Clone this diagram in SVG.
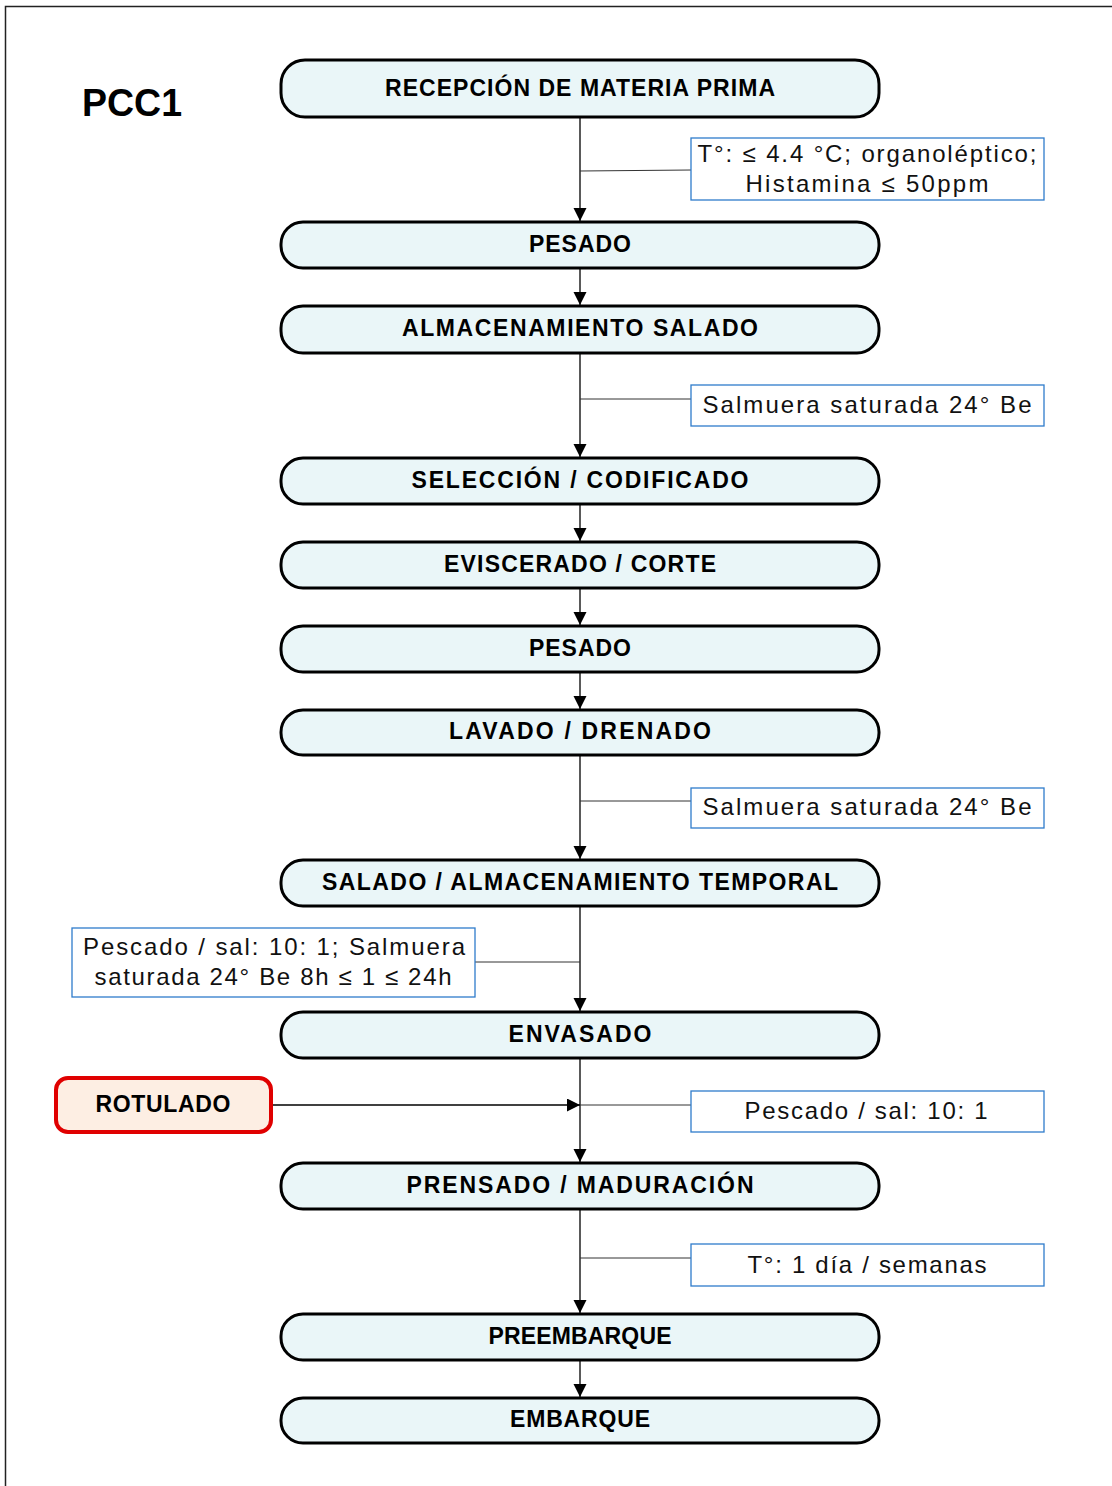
<svg xmlns="http://www.w3.org/2000/svg" width="1112" height="1486" viewBox="0 0 1112 1486">
<style>
.node rect{fill:#eaf6f8;stroke:#000;stroke-width:3}
.nt{font-family:"Liberation Sans",Arial,sans-serif;font-weight:bold;font-size:23px;fill:#000;text-anchor:middle}
.note rect{fill:#fff;stroke:#2e7ccb;stroke-width:1.3}
.at{font-family:"Liberation Sans",Arial,sans-serif;font-size:24px;fill:#111;text-anchor:middle}
.flow{stroke:#000;stroke-width:1.3;fill:none}
.lead{stroke:#333;stroke-width:1;fill:none}
</style>
<defs>
<marker id="ah" markerWidth="14" markerHeight="14" refX="13" refY="6.5" orient="auto" markerUnits="userSpaceOnUse">
<path d="M0,0 L13,6.5 L0,13 Z" fill="#000"/>
</marker>
</defs>
<rect x="5.5" y="6.5" width="1200" height="1600" fill="#fff" stroke="#222" stroke-width="1.5"/>
<text x="82" y="116" font-family="'Liberation Sans',Arial,sans-serif" font-weight="bold" font-size="38" textLength="100" lengthAdjust="spacingAndGlyphs">PCC1</text>

<g id="connectors">
<line class="flow" x1="580" y1="117" x2="580" y2="221" marker-end="url(#ah)"/>
<line class="flow" x1="580" y1="268" x2="580" y2="305" marker-end="url(#ah)"/>
<line class="flow" x1="580" y1="353" x2="580" y2="457" marker-end="url(#ah)"/>
<line class="flow" x1="580" y1="504" x2="580" y2="541" marker-end="url(#ah)"/>
<line class="flow" x1="580" y1="588" x2="580" y2="625" marker-end="url(#ah)"/>
<line class="flow" x1="580" y1="672" x2="580" y2="709" marker-end="url(#ah)"/>
<line class="flow" x1="580" y1="755" x2="580" y2="859" marker-end="url(#ah)"/>
<line class="flow" x1="580" y1="906" x2="580" y2="1011" marker-end="url(#ah)"/>
<line class="flow" x1="580" y1="1058" x2="580" y2="1162" marker-end="url(#ah)"/>
<line class="flow" x1="580" y1="1209" x2="580" y2="1313" marker-end="url(#ah)"/>
<line class="flow" x1="580" y1="1360" x2="580" y2="1397" marker-end="url(#ah)"/>
<line class="flow" x1="272" y1="1105" x2="580" y2="1105" marker-end="url(#ah)"/>
<line class="lead" x1="580" y1="171" x2="691" y2="170"/>
<line class="lead" x1="580" y1="399" x2="691" y2="399"/>
<line class="lead" x1="580" y1="801" x2="691" y2="801"/>
<line class="lead" x1="475" y1="962" x2="580" y2="962"/>
<line class="lead" x1="580" y1="1105" x2="691" y2="1105"/>
<line class="lead" x1="580" y1="1258" x2="691" y2="1258"/>
</g>

<g id="n1" class="node"><rect x="281" y="60" width="598" height="57" rx="24"/><text class="nt" x="580" y="96" textLength="390">RECEPCIÓN DE MATERIA PRIMA</text></g>
<g id="n2" class="node"><rect x="281" y="222" width="598" height="46" rx="22"/><text class="nt" x="580" y="252" textLength="102">PESADO</text></g>
<g id="n3" class="node"><rect x="281" y="306" width="598" height="47" rx="22"/><text class="nt" x="580" y="336" textLength="356">ALMACENAMIENTO SALADO</text></g>
<g id="n4" class="node"><rect x="281" y="458" width="598" height="46" rx="22"/><text class="nt" x="580" y="488" textLength="337">SELECCIÓN / CODIFICADO</text></g>
<g id="n5" class="node"><rect x="281" y="542" width="598" height="46" rx="22"/><text class="nt" x="580" y="572" textLength="272">EVISCERADO / CORTE</text></g>
<g id="n6" class="node"><rect x="281" y="626" width="598" height="46" rx="22"/><text class="nt" x="580" y="656" textLength="102">PESADO</text></g>
<g id="n7" class="node"><rect x="281" y="710" width="598" height="45" rx="22"/><text class="nt" x="580" y="739" textLength="262">LAVADO / DRENADO</text></g>
<g id="n8" class="node"><rect x="281" y="860" width="598" height="46" rx="22"/><text class="nt" x="580" y="890" textLength="516">SALADO / ALMACENAMIENTO TEMPORAL</text></g>
<g id="n9" class="node"><rect x="281" y="1012" width="598" height="46" rx="22"/><text class="nt" x="580" y="1042" textLength="143">ENVASADO</text></g>
<g id="n10" class="node"><rect x="281" y="1163" width="598" height="46" rx="22"/><text class="nt" x="580" y="1193" textLength="347">PRENSADO / MADURACIÓN</text></g>
<g id="n11" class="node"><rect x="281" y="1314" width="598" height="46" rx="22"/><text class="nt" x="580" y="1344" textLength="183">PREEMBARQUE</text></g>
<g id="n12" class="node"><rect x="281" y="1398" width="598" height="45" rx="22"/><text class="nt" x="580" y="1427" textLength="140">EMBARQUE</text></g>

<g id="rotulado"><rect x="56" y="1078" width="215" height="54" rx="12" fill="#fdeee3" stroke="#e00000" stroke-width="4"/><text class="nt" x="163" y="1112" textLength="135">ROTULADO</text></g>

<g id="a1" class="note"><rect x="691" y="138" width="353" height="62"/><text class="at" x="867" y="162" textLength="339">T°: ≤ 4.4 °C; organoléptico;</text><text class="at" x="867" y="192" textLength="243">Histamina ≤ 50ppm</text></g>
<g id="a2" class="note"><rect x="691" y="385" width="353" height="41"/><text class="at" x="867" y="413" textLength="329">Salmuera saturada 24° Be</text></g>
<g id="a3" class="note"><rect x="691" y="788" width="353" height="40"/><text class="at" x="867" y="815" textLength="329">Salmuera saturada 24° Be</text></g>
<g id="a4" class="note"><rect x="72" y="928" width="403" height="69"/><text class="at" x="274" y="955" textLength="382">Pescado / sal: 10: 1; Salmuera</text><text class="at" x="273" y="985" textLength="357">saturada 24° Be 8h ≤ 1 ≤ 24h</text></g>
<g id="a5" class="note"><rect x="691" y="1091" width="353" height="41"/><text class="at" x="866" y="1119" textLength="243">Pescado / sal: 10: 1</text></g>
<g id="a6" class="note"><rect x="691" y="1244" width="353" height="42"/><text class="at" x="867" y="1273" textLength="239">T°: 1 día / semanas</text></g>
</svg>
